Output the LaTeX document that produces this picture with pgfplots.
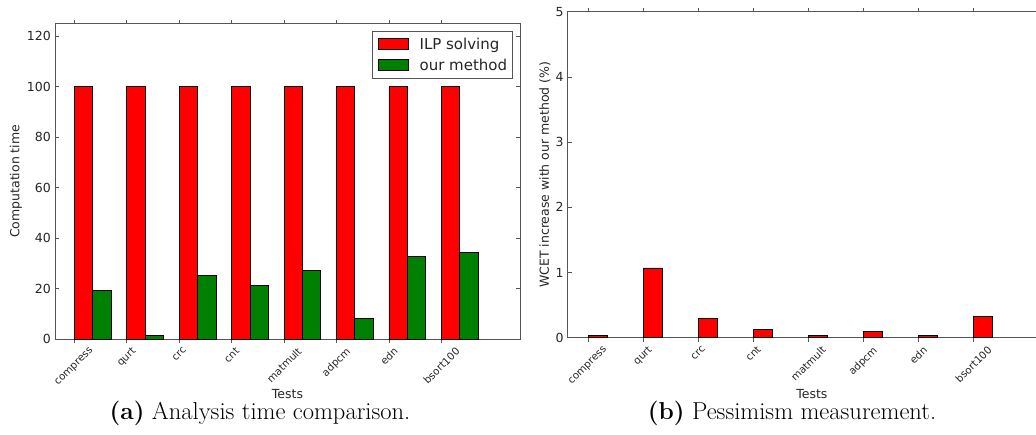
\documentclass[border=0pt]{standalone}
\usepackage{pgfplots}
\usepackage{pgfplotstable}
\pgfplotsset{compat=1.18}
\usepackage{fontspec}
\newfontfamily\djv{DejaVu Sans}
\definecolor{mplred}{RGB}{255,0,0}
\definecolor{mplgreen}{RGB}{0,128,0}
\definecolor{spine}{RGB}{85,85,85}

\pgfplotstableread{
i ilp ours
0 100 19.4
1 100 1.3
2 100 25.1
3 100 21.2
4 100 27.1
5 100 8.3
6 100 32.8
7 100 34.3
}\timedata

\pgfplotstableread{
i inc
0 0.04
1 1.07
2 0.30
3 0.12
4 0.04
5 0.10
6 0.04
7 0.32
}\pessdata

\pgfplotsset{
  mpl/.style={
    scale only axis,
    axis line style={spine, line width=1pt},
    every tick/.style={spine, line width=0.8pt},
    tick align=inside,
    major tick length=4pt,
    xtick pos=both, ytick pos=both,
    xticklabel pos=bottom, yticklabel pos=left,
    xtick={0,...,7},
    xticklabels={\rotatebox{45}{compress},\rotatebox{45}{qurt},\rotatebox{45}{crc},\rotatebox{45}{cnt},\rotatebox{45}{matmult},\rotatebox{45}{adpcm},\rotatebox{45}{edn},\rotatebox{45}{bsort100}},
    xticklabel style={anchor=north, inner sep=0pt, yshift=-3.5pt, font=\djv\fontsize{10.3}{12}\selectfont, text=black!85},
    yticklabel style={anchor=east, inner sep=0pt, xshift=-4pt, font=\djv\fontsize{12.5}{15}\selectfont, text=black!85},
    /pgf/number format/assume math mode=true,
    label style={font=\djv\fontsize{12.5}{15}\selectfont, text=black!85},
    xmin=-0.37, xmax=8.5, ymin=0,
    ybar, bar width=0.35,
    legend image code/.code={\draw[#1] (0pt,-5.5pt) rectangle (30pt,5.5pt); \path[draw=none,fill=none] (0pt,-5.5pt) rectangle (41pt,5.5pt);},
  }
}

\begin{document}
\begin{tikzpicture}
\begin{axis}[mpl,
  at={(55pt,95pt)}, anchor=south west,
  width=465pt, height=315.3pt,
  ymax=125, ytick={0,20,...,120},
  xlabel={Tests}, ylabel={Computation time},
  xlabel style={at={(axis description cs:0.5,-0.174)}, anchor=center},
  ylabel style={at={(axis description cs:-0.084,0.5)}, anchor=center},
  legend style={at={(0.985,0.977)}, anchor=north east, draw=spine, line width=0.8pt,
    font=\djv\fontsize{15}{18}\selectfont, text=black!85,
    inner xsep=5.5pt, inner ysep=6.5pt, row sep=8pt,
    nodes={inner sep=0pt, anchor=west}},
  legend cell align=left,
]
\addplot[fill=mplred, draw=black, line width=0.8pt, bar shift=0pt] table[x expr=\thisrow{i}+0.175, y=ilp] {\timedata};
\addlegendentry{ILP solving}
\addplot[fill=mplgreen, draw=black, line width=0.8pt, bar shift=0pt] table[x expr=\thisrow{i}+0.525, y=ours] {\timedata};
\addlegendentry{our method}
\end{axis}

\begin{axis}[mpl,
  at={(567.7pt,96.3pt)}, anchor=south west,
  width=488.3pt, height=326pt,
  ymax=5, ytick={0,1,...,5},
  xlabel={Tests}, ylabel={WCET increase with our method (\%)},
  xlabel style={at={(axis description cs:0.5,-0.173)}, anchor=center},
  ylabel style={at={(axis description cs:-0.0465,0.5)}, anchor=center},
]
\addplot[fill=mplred, draw=black, line width=0.8pt, bar shift=0pt] table[x expr=\thisrow{i}+0.175, y=inc] {\pessdata};
\end{axis}

\node[anchor=base] at (260pt,15pt) {\fontsize{24.5}{29}\selectfont\textbf{(a)} Analysis time comparison.};
\node[anchor=base] at (792pt,15pt) {\fontsize{24.5}{29}\selectfont\textbf{(b)} Pessimism measurement.};

\pgfresetboundingbox
\path[use as bounding box] (0pt,0pt) rectangle (1036pt,434pt);
\end{tikzpicture}
\end{document}
